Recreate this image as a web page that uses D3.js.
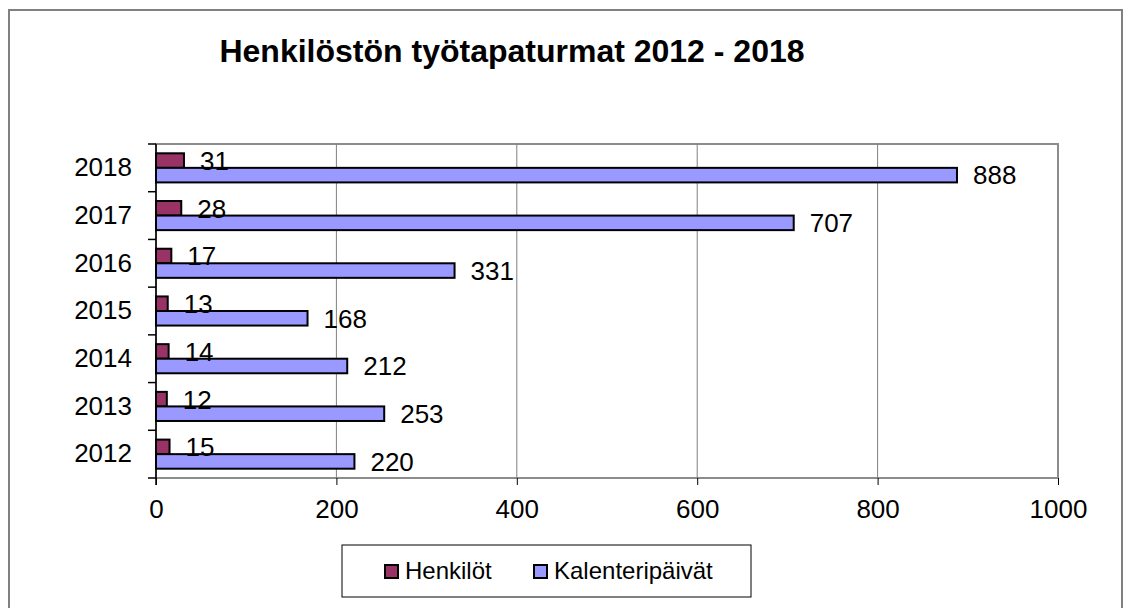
<!DOCTYPE html>
<html>
<head>
<meta charset="utf-8">
<script src="https://cdn.jsdelivr.net/npm/d3@7"></script>
<style>
  body { margin: 0; background: #fff; }
  text { font-family: Arial, "Liberation Sans", sans-serif; fill: #000; }
</style>
</head>
<body>
<svg id="chart" width="1124" height="608"></svg>
<script>
// data
const years = ["2018", "2017", "2016", "2015", "2014", "2013", "2012"];
const series = ["Henkilöt", "Kalenteripäivät"];
const henkilot = [31, 28, 17, 13, 14, 12, 15];
const kalenteripaivat = [888, 707, 331, 168, 212, 253, 220];
const xTicks = [0, 200, 400, 600, 800, 1000];
const colors = ["#993366", "#9999ff"];

const svg = d3.select("#chart");

// outer chart frame (runs past the bottom of the window)
svg.append("rect")
    .attr("x", 9).attr("y", 10)
    .attr("width", 1113).attr("height", 640)
    .attr("fill", "none")
    .attr("stroke", "#808080")
    .attr("stroke-width", 2);

svg.append("text")
    .attr("x", 512)
    .attr("y", 62)
    .attr("text-anchor", "middle")
    .style("font-size", "32px")
    .style("font-weight", "bold")
    .text("Henkilöstön työtapaturmat 2012 - 2018");

const plot = {left: 156, top: 144, right: 1058, bottom: 478};

const x = d3.scaleLinear()
    .domain([0, 1000])
    .range([plot.left, plot.right]);

const y = d3.scaleBand()
    .domain(years)
    .range([plot.top, plot.bottom]);

const ySub = d3.scaleBand()
    .domain(series)
    .range([y.bandwidth() * 0.195, y.bandwidth() * 0.805]);

const g = svg.append("g");

// plot area border
g.append("rect")
    .attr("x", plot.left).attr("y", plot.top)
    .attr("width", plot.right - plot.left)
    .attr("height", plot.bottom - plot.top)
    .attr("fill", "none")
    .attr("stroke", "#8c8c8c")
    .attr("stroke-width", 2);

// vertical gridlines
g.selectAll(".grid")
    .data(xTicks.slice(1, -1))
    .enter().append("line")
    .attr("x1", d => x(d)).attr("x2", d => x(d))
    .attr("y1", plot.top).attr("y2", plot.bottom)
    .attr("stroke", "#808080")
    .attr("stroke-width", 1);

// bottom axis
const xAxis = svg.append("g")
    .attr("transform", `translate(0,${plot.bottom})`)
    .call(d3.axisBottom(x).tickValues(xTicks).tickFormat(d3.format("d")).tickSize(7).tickPadding(15));
xAxis.select(".domain").remove();
xAxis.selectAll("line").attr("stroke", "#000");
xAxis.selectAll("text").style("font-size", "26px").style("font-family", "Arial, 'Liberation Sans', sans-serif");

// left axis: labels at band centres, ticks at band edges
const yAxis = svg.append("g")
    .attr("transform", `translate(${plot.left},0)`)
    .call(d3.axisLeft(y).tickSize(0).tickPadding(24));
yAxis.select(".domain").remove();
yAxis.selectAll("text").style("font-size", "26px").style("font-family", "Arial, 'Liberation Sans', sans-serif");

const edges = years.map(d => y(d)).concat([y(years[years.length - 1]) + y.bandwidth()]);
svg.append("g").selectAll("line")
    .data(edges)
    .enter().append("line")
    .attr("x1", plot.left - 8).attr("x2", plot.left)
    .attr("y1", d => d).attr("y2", d => d)
    .attr("stroke", "#000")
    .attr("stroke-width", 1.5);

svg.append("line")
    .attr("x1", plot.left).attr("x2", plot.left)
    .attr("y1", plot.top).attr("y2", plot.bottom + 7)
    .attr("stroke", "#000")
    .attr("stroke-width", 1.5);

// bars
const rows = [];
years.forEach((yr, i) => {
    rows.push({year: yr, s: 0, value: henkilot[i]});
    rows.push({year: yr, s: 1, value: kalenteripaivat[i]});
});

svg.append("g").selectAll("rect")
    .data(rows)
    .enter().append("rect")
    .attr("x", x(0))
    .attr("y", d => y(d.year) + ySub(series[d.s]))
    .attr("width", d => x(d.value) - x(0))
    .attr("height", ySub.bandwidth())
    .attr("fill", d => colors[d.s])
    .attr("stroke", "#000")
    .attr("stroke-width", 2);

svg.append("g").selectAll("text")
    .data(rows)
    .enter().append("text")
    .attr("x", d => x(d.value) + 16)
    .attr("y", d => y(d.year) + ySub(series[d.s]) + ySub.bandwidth() / 2)
    .attr("dy", "0.36em")
    .style("font-size", "26px")
    .text(d => d.value);

// legend
const legend = svg.append("g");
legend.append("rect")
    .attr("x", 342).attr("y", 545)
    .attr("width", 409).attr("height", 52)
    .attr("fill", "#fff")
    .attr("stroke", "#000")
    .attr("stroke-width", 1);

const legendX = [385, 534];
series.forEach((s, i) => {
    legend.append("rect")
        .attr("x", legendX[i]).attr("y", 565)
        .attr("width", 13).attr("height", 13)
        .attr("fill", colors[i])
        .attr("stroke", "#000")
        .attr("stroke-width", 2);
    legend.append("text")
        .attr("x", legendX[i] + 20)
        .attr("y", 579)
        .style("font-size", "24px")
        .text(s);
});
</script>
</body>
</html>
